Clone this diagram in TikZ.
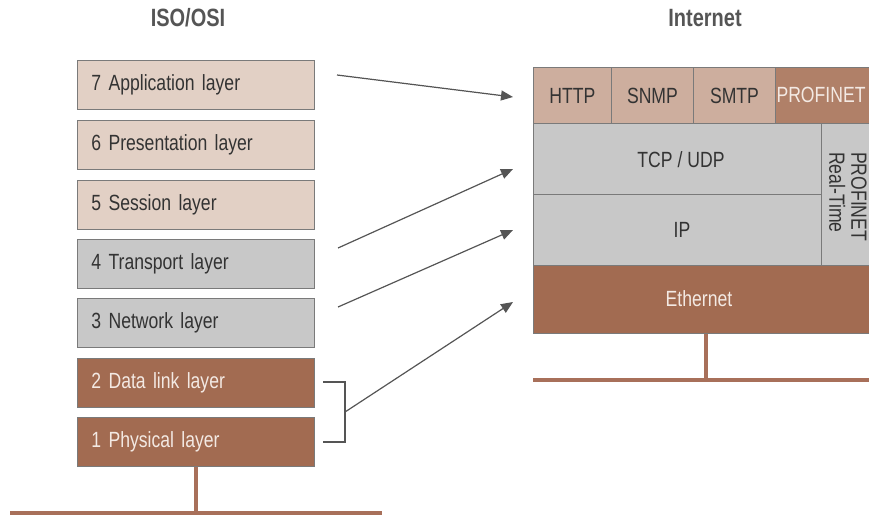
\documentclass[tikz,border=0pt]{standalone}
\usepackage{fontspec}
\setmainfont{Liberation Sans}[FakeStretch=0.8]
\usetikzlibrary{arrows.meta}
\definecolor{lbeige}{HTML}{E2D0C5}
\definecolor{lgray}{HTML}{C8C8C8}
\definecolor{brn}{HTML}{A26B51}
\definecolor{mbeige}{HTML}{CDAE9E}
\definecolor{dbeige}{HTML}{B08068}
\definecolor{bord}{HTML}{7A7A7A}
\definecolor{txt}{HTML}{333333}
\definecolor{ltxt}{HTML}{F3E9E3}
\definecolor{arrc}{HTML}{555555}
\definecolor{gnd}{HTML}{A8705A}
\tikzset{
  osibox/.style={draw=bord, line width=0.9pt, anchor=north west, minimum width=237pt, minimum height=49pt,
    inner xsep=14pt, text width=209pt, align=left, font=\fontsize{22}{26}\selectfont},
  cell/.style={draw=bord, line width=0.9pt, anchor=north west, inner sep=0pt, font=\fontsize{22}{26}\selectfont},
  lbl/.style={font=\fontsize{22}{26}\selectfont},
  ttl/.style={font=\fontsize{25}{29}\selectfont\bfseries, text=arrc},
  arr/.style={draw=arrc, line width=1.2pt, -{Triangle[length=12pt,width=10pt]}},
  brk/.style={draw=arrc, line width=1.2pt},
  gline/.style={draw=gnd, line width=4pt}
}
\begin{document}
\begin{tikzpicture}[x=1pt,y=-1pt]
\useasboundingbox (0,0) rectangle (869,515);
\clip (0,0) rectangle (869,515);
% titles
\node[ttl] (t1) at (188,18) {ISO/OSI};
\node[ttl] (t2) at (705,18) {Internet};
% OSI stack
\node[osibox, fill=lbeige, text=txt] (l7) at (77,60) {7 Application layer};
\node[osibox, fill=lbeige, text=txt] (l6) at (77,120) {6 Presentation layer};
\node[osibox, fill=lbeige, text=txt] (l5) at (77,179.5) {5 Session layer};
\node[osibox, fill=lgray, text=txt] (l4) at (77,239) {4 Transport layer};
\node[osibox, fill=lgray, text=txt] (l3) at (77,298) {3 Network layer};
\node[osibox, fill=brn, text=ltxt] (l2) at (77,358) {2 Data link layer};
\node[osibox, fill=brn, text=ltxt] (l1) at (77,417) {1 Physical layer};
% left ground
\coordinate (gl1) at (10,513);
\coordinate (gl2) at (382,513);
\coordinate (gls) at (196,513);
\draw[gline] (gl1) -- (gl2);
\draw[gline] (l1.south -| gls) -- (gls);
% Internet stack
\node[cell, fill=mbeige, minimum width=78pt, minimum height=56pt, text=txt] (http) at (533,67) {HTTP};
\node[cell, fill=mbeige, minimum width=82pt, minimum height=56pt, text=txt] (snmp) at (611,67) {SNMP};
\node[cell, fill=mbeige, minimum width=82pt, minimum height=56pt, text=txt] (smtp) at (693,67) {SMTP};
\node[cell, fill=dbeige, minimum width=112pt, minimum height=56pt] (pnet) at (775,67) {};
\node[lbl, text=ltxt] (pnett) at (821,95) {PROFINET};
\node[cell, fill=lgray, minimum width=288pt, minimum height=71pt] (tcp) at (533,123) {};
\node[lbl, text=txt] (tcpt) at (681,160) {TCP / UDP};
\node[cell, fill=lgray, minimum width=288pt, minimum height=71pt] (ip) at (533,194) {};
\node[lbl, text=txt] (ipt) at (682,230) {IP};
\node[cell, fill=lgray, minimum width=66pt, minimum height=142pt] (rt) at (821,123) {};
\node[lbl, text=txt, rotate=-90, anchor=north west, align=left, inner sep=0pt] (rtt) at (867,152) {PROFINET\\[-4pt]Real-Time};
\node[cell, fill=brn, minimum width=354pt, minimum height=68pt] (eth) at (533,265) {};
\node[lbl, text=ltxt] (etht) at (699,299) {Ethernet};
% right ground
\coordinate (gr1) at (533,380);
\coordinate (gr2) at (900,380);
\coordinate (grs) at (706,380);
\draw[gline] (gr1) -- (gr2);
\draw[gline] (eth.south -| grs) -- (grs);
% arrows
\coordinate (a7s) at (337,75);
\coordinate (a7e) at (513,97);
\coordinate (a4s) at (338,248);
\coordinate (a4e) at (513,169);
\coordinate (a3s) at (338,307);
\coordinate (a3e) at (513,230);
\coordinate (b1) at (323,382);
\coordinate (b2) at (345,382);
\coordinate (b3) at (345,442);
\coordinate (b4) at (323,442);
\coordinate (bm) at (345,412);
\coordinate (abe) at (513,302);
\draw[arr] (a7s) -- (a7e);
\draw[arr] (a4s) -- (a4e);
\draw[arr] (a3s) -- (a3e);
\draw[brk] (b1) -- (b2) -- (b3) -- (b4);
\draw[arr] (bm) -- (abe);
\end{tikzpicture}
\end{document}
